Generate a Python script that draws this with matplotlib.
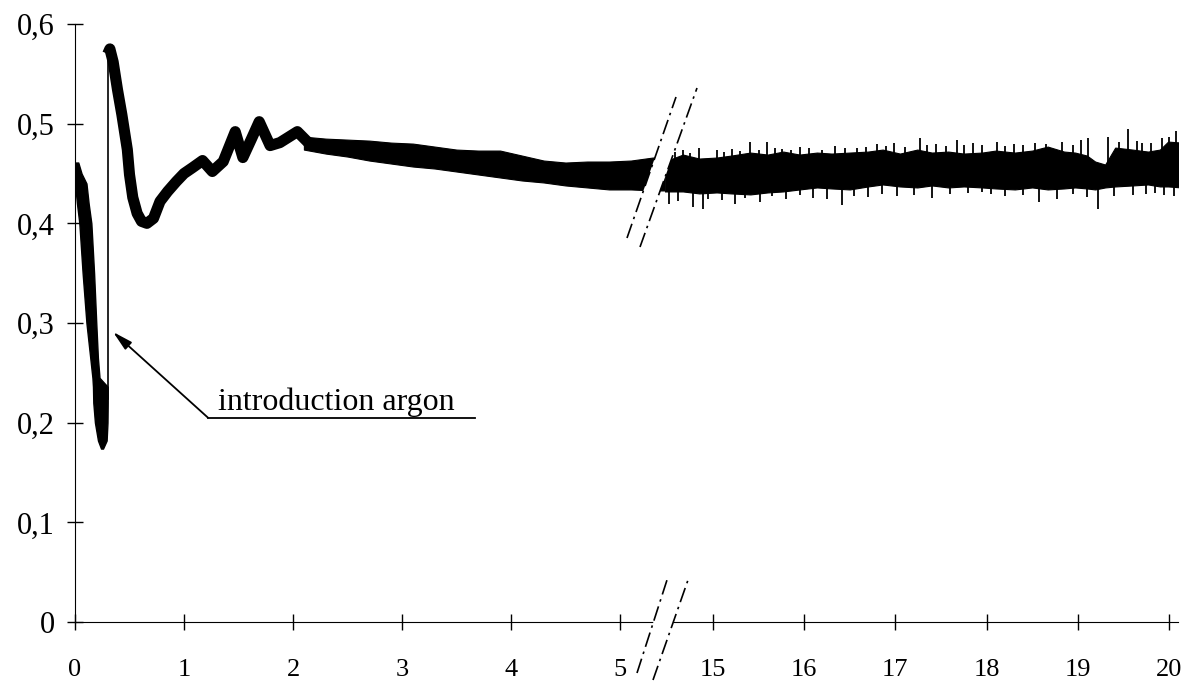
import matplotlib.pyplot as plt
from matplotlib.lines import Line2D
from matplotlib.patches import Polygon

plt.rcParams['font.family'] = ['Liberation Serif', 'DejaVu Serif']

# ---- first 5 minutes
# fast drop: left / right edge of the trace for each level
drop_y = [0.461, 0.450, 0.440, 0.420, 0.400, 0.350, 0.300, 0.265, 0.245, 0.236, 0.220, 0.200, 0.182, 0.174]
drop_left = [0.0, 0.0, 0.0, 0.018, 0.040, 0.070, 0.105, 0.140, 0.160, 0.165, 0.168, 0.183, 0.211, 0.239]
drop_right = [0.030, 0.060, 0.105, 0.125, 0.150, 0.175, 0.195, 0.210, 0.225, 0.300, 0.300, 0.298, 0.290, 0.257]
# argon introduced: near vertical jump
jump_x = [0.30, 0.30]
jump_y = [0.224, 0.575]
# recovery, centre of the trace
recover_x = [0.30, 0.32, 0.35, 0.39, 0.43, 0.48, 0.50, 0.53, 0.57, 0.61, 0.66, 0.72, 0.78, 0.85,
             0.93, 1.00, 1.08, 1.17, 1.26, 1.36, 1.47, 1.54, 1.62, 1.69, 1.79, 1.88, 2.04, 2.14]
recover_y = [0.570, 0.575, 0.562, 0.534, 0.509, 0.474, 0.449, 0.426, 0.410, 0.402, 0.400, 0.405, 0.422, 0.432,
             0.442, 0.450, 0.456, 0.463, 0.452, 0.462, 0.492, 0.466, 0.485, 0.502, 0.478, 0.481, 0.492, 0.481]
# slow drift, upper / lower edge of the noisy band
drift_x = [2.1, 2.3, 2.5, 2.7, 2.9, 3.1, 3.3, 3.5, 3.7, 3.9, 4.1, 4.3, 4.5, 4.7, 4.9, 5.1, 5.3, 5.42]
drift_top = [0.487, 0.485, 0.484, 0.483, 0.481, 0.480, 0.477, 0.474, 0.473, 0.473, 0.468, 0.463, 0.461, 0.462, 0.462, 0.463, 0.466, 0.466]
drift_bot = [0.474, 0.470, 0.467, 0.463, 0.460, 0.457, 0.455, 0.452, 0.449, 0.446, 0.443, 0.441, 0.438, 0.436, 0.434, 0.434, 0.433, 0.433]

# ---- 15 to 20 minutes: noisy band plus the visible spikes
late_x = [14.47, 14.67, 14.85, 15.04, 15.2, 15.41, 15.6, 15.77, 15.95, 16.14,
          16.3, 16.5, 16.7, 16.86, 17.05, 17.24, 17.4, 17.58, 17.75, 17.95,
          18.1, 18.31, 18.5, 18.67, 18.85, 18.97, 19.1, 19.19, 19.3, 19.41,
          19.6, 19.77, 19.9, 19.99, 20.14]
late_top = [0.462, 0.469, 0.465, 0.466, 0.468, 0.471, 0.469, 0.472, 0.469, 0.471,
            0.470, 0.471, 0.472, 0.474, 0.470, 0.474, 0.471, 0.472, 0.470, 0.471,
            0.473, 0.471, 0.473, 0.477, 0.472, 0.471, 0.468, 0.462, 0.459, 0.476,
            0.474, 0.472, 0.474, 0.482, 0.481]
late_bot = [0.432, 0.432, 0.430, 0.431, 0.430, 0.429, 0.431, 0.432, 0.434, 0.436,
            0.435, 0.434, 0.437, 0.439, 0.437, 0.436, 0.438, 0.436, 0.437, 0.436,
            0.435, 0.434, 0.436, 0.434, 0.435, 0.436, 0.435, 0.434, 0.436, 0.437,
            0.438, 0.439, 0.437, 0.437, 0.436]
spike_up_x = [14.58, 14.67, 14.75, 14.85, 15.04, 15.12, 15.21, 15.30, 15.41, 15.50, 15.59, 15.68, 15.76, 15.85,
              15.95, 16.05, 16.20, 16.34, 16.45, 16.58, 16.68, 16.80, 16.90, 16.99, 17.10, 17.27, 17.35, 17.45,
              17.55, 17.67, 17.75, 17.85, 17.95, 18.11, 18.20, 18.30, 18.40, 18.53, 18.65, 18.83, 18.95, 19.03,
              19.11, 19.33, 19.45, 19.55, 19.65, 19.70, 19.80, 19.92, 20.00, 20.08]
spike_up_y = [0.472, 0.474, 0.471, 0.476, 0.474, 0.472, 0.475, 0.473, 0.482, 0.474, 0.482, 0.476, 0.475, 0.474,
              0.477, 0.476, 0.474, 0.478, 0.476, 0.476, 0.477, 0.480, 0.478, 0.481, 0.477, 0.486, 0.479, 0.480,
              0.478, 0.484, 0.479, 0.481, 0.479, 0.482, 0.478, 0.480, 0.479, 0.481, 0.480, 0.482, 0.479, 0.484,
              0.486, 0.487, 0.482, 0.495, 0.483, 0.481, 0.481, 0.486, 0.487, 0.493]
spike_dn_x = [14.52, 14.62, 14.78, 14.89, 14.95, 15.10, 15.24, 15.35, 15.51, 15.65, 15.80, 15.95, 16.10, 16.25,
              16.41, 16.55, 16.70, 16.85, 17.02, 17.20, 17.40, 17.60, 17.80, 17.95, 18.05, 18.20, 18.40, 18.58,
              18.77, 18.95, 19.10, 19.22, 19.40, 19.60, 19.75, 19.85, 19.95, 20.05]
spike_dn_y = [0.419, 0.422, 0.416, 0.414, 0.424, 0.423, 0.419, 0.425, 0.421, 0.427, 0.424, 0.428, 0.425, 0.424,
              0.418, 0.427, 0.426, 0.429, 0.427, 0.428, 0.425, 0.429, 0.430, 0.431, 0.429, 0.427, 0.428, 0.421,
              0.424, 0.429, 0.426, 0.414, 0.427, 0.428, 0.429, 0.430, 0.428, 0.427]

left_ticks = [0, 1, 2, 3, 4, 5]
right_ticks = [15, 16, 17, 18, 19, 20]
y_ticks = [0, 0.1, 0.2, 0.3, 0.4, 0.5, 0.6]
y_labels = ["0", "0,1", "0,2", "0,3", "0,4", "0,5", "0,6"]
note = "introduction argon"

W, H = 1192, 682
fig = plt.figure(figsize=(W / 100, H / 100), dpi=100)


def fx(px):
    return px / W


def fy(py):
    return 1 - py / H


bottom, top = fy(622), fy(24)
ax1 = fig.add_axes([fx(75), bottom, fx(665) - fx(75), top - bottom])
ax2 = fig.add_axes([fx(665), bottom, fx(1178) - fx(665), top - bottom])

ax1.set_xlim(0, 590 / 109)
ax2.set_xlim(15 - 48 / 91.2, 20 + 9 / 91.2)
for ax in (ax1, ax2):
    ax.set_ylim(0, 0.6)
    ax.spines['top'].set_visible(False)
    ax.spines['right'].set_visible(False)
    ax.tick_params(axis='x', direction='inout', length=11, width=1, labelsize=19, pad=21)
ax2.spines['left'].set_visible(False)
ax2.set_yticks([])

ax1.set_yticks(y_ticks)
ax1.set_yticklabels(y_labels)
ax1.tick_params(axis='y', direction='inout', length=11, width=1, labelsize=22, pad=9)
ax1.set_xticks(left_ticks)
ax1.set_xticklabels([str(t) for t in left_ticks])
ax2.set_xticks(right_ticks)
ax2.set_xticklabels([str(t) for t in right_ticks])

# trace
ax1.fill_betweenx(drop_y, drop_left, drop_right, color='black', lw=1)
ax1.plot(jump_x, jump_y, color='black', lw=1.2)
ax1.plot(recover_x, recover_y, color='black', lw=8, solid_joinstyle='round', solid_capstyle='butt')
ax1.fill_between(drift_x, drift_bot, drift_top, color='black', lw=0.8)

ax2.fill_between(late_x, late_bot, late_top, color='black', lw=0.8)
ax2.vlines(spike_up_x, 0.455, spike_up_y, color='black', lw=1.3)
ax2.vlines(spike_dn_x, 0.445, spike_dn_y, color='black', lw=1.3)

# annotation
ax1.annotate('', xy=(0.349, 0.291), xytext=(1.22, 0.205),
             arrowprops=dict(arrowstyle='-|>,head_length=1.2,head_width=0.3',
                             color='black', lw=1.3, shrinkA=0, shrinkB=0))
ax1.plot([1.22, 3.67], [0.205, 0.205], color='black', lw=1.3)
ax1.text(1.31, 0.213, note, fontsize=23, va='baseline', ha='left')

# axis break: white gaps and dash-dot slashes
gap_top = Polygon([(fx(628), fy(235)), (fx(675), fy(100)), (fx(692.7), fy(100)), (fx(644.3), fy(235))],
                  closed=True, facecolor='white', edgecolor='none', transform=fig.transFigure, zorder=5)
gap_bot = Polygon([(fx(647.6), fy(640)), (fx(660.5), fy(600)), (fx(681), fy(600)), (fx(667), fy(640))],
                  closed=True, facecolor='white', edgecolor='none', transform=fig.transFigure, zorder=5)
fig.add_artist(gap_top)
fig.add_artist(gap_bot)

slashes = [((627, 238), (676, 97)), ((640, 247), (697, 88)),
           ((637, 673), (667, 580)), ((653, 680), (688, 580))]
for (xa, ya), (xb, yb) in slashes:
    fig.add_artist(Line2D([fx(xa), fx(xb)], [fy(ya), fy(yb)], color='black', lw=1.2,
                          linestyle=(0, (9, 3, 1.5, 3)), transform=fig.transFigure, zorder=6))

fig.savefig('out.png', dpi=100, facecolor='white')
